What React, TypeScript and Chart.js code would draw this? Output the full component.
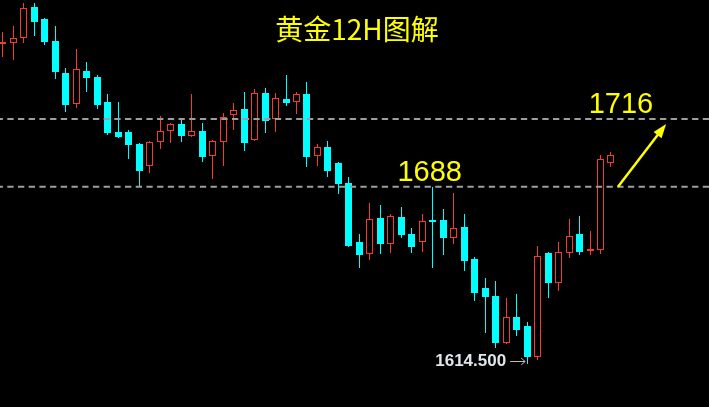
import React, { useEffect, useRef } from 'react';
import { Chart, registerables } from 'chart.js';
Chart.register(...registerables);

const opens = [1747.0, 1747.4, 1749.5, 1762.3, 1757.4, 1748.3, 1735.0, 1722.2, 1735.9, 1733.4, 1723.0, 1710.6, 1710.6, 1705.7, 1696.6, 1706.5, 1711.0, 1713.9, 1709.0, 1711.0, 1700.7, 1706.5, 1717.7, 1720.1, 1707.3, 1726.8, 1716.0, 1724.3, 1723.0, 1726.3, 1700.7, 1704.4, 1697.8, 1689.5, 1665.1, 1660.2, 1675.1, 1664.3, 1675.5, 1668.4, 1665.1, 1674.2, 1674.2, 1666.8, 1671.3, 1658.1, 1646.1, 1642.8, 1623.4, 1634.1, 1630.4, 1617.6, 1660.6, 1648.2, 1660.6, 1668.4, 1661.4, 1661.8, 1697.8];
const highs = [1752.0, 1754.5, 1764.0, 1764.0, 1757.8, 1754.5, 1737.1, 1744.9, 1739.6, 1734.2, 1726.3, 1723.0, 1711.5, 1706.0, 1706.8, 1717.2, 1714.3, 1715.6, 1726.3, 1714.3, 1707.2, 1718.5, 1722.6, 1727.2, 1728.4, 1728.8, 1726.8, 1734.2, 1727.2, 1731.3, 1705.7, 1706.9, 1698.2, 1692.0, 1668.4, 1681.3, 1680.4, 1676.7, 1679.6, 1670.9, 1676.7, 1687.9, 1678.8, 1685.4, 1676.7, 1658.9, 1650.2, 1649.0, 1642.0, 1643.6, 1632.0, 1663.5, 1661.0, 1665.1, 1674.6, 1675.9, 1669.7, 1701.1, 1702.4];
const lows = [1741.6, 1740.4, 1747.4, 1750.3, 1746.6, 1732.5, 1718.9, 1720.5, 1727.2, 1720.1, 1709.4, 1708.1, 1699.5, 1687.9, 1693.7, 1703.6, 1706.1, 1706.5, 1708.6, 1698.2, 1691.2, 1696.6, 1711.5, 1702.8, 1706.9, 1710.2, 1710.6, 1721.4, 1718.1, 1696.1, 1696.6, 1692.0, 1685.0, 1663.1, 1654.4, 1657.7, 1660.2, 1660.6, 1666.8, 1660.6, 1661.0, 1654.4, 1659.8, 1664.3, 1653.1, 1640.7, 1627.5, 1621.3, 1623.0, 1626.3, 1614.5, 1616.3, 1642.0, 1644.9, 1658.5, 1659.8, 1659.8, 1660.2, 1696.1];
const closes = [1747.8, 1749.5, 1761.9, 1756.1, 1747.8, 1735.4, 1721.8, 1736.7, 1733.0, 1721.8, 1710.2, 1708.6, 1705.2, 1694.5, 1706.5, 1711.0, 1713.9, 1709.0, 1711.0, 1700.3, 1706.9, 1716.8, 1719.7, 1706.1, 1726.8, 1715.2, 1724.7, 1722.6, 1726.3, 1700.3, 1704.4, 1694.5, 1689.1, 1663.5, 1659.8, 1674.6, 1664.3, 1675.9, 1668.0, 1663.1, 1673.8, 1673.4, 1666.8, 1670.9, 1657.3, 1644.0, 1642.4, 1623.4, 1634.1, 1628.7, 1617.6, 1659.3, 1648.2, 1661.0, 1667.6, 1661.0, 1662.2, 1699.5, 1701.1];

const levels = [1716, 1688];
const levelLabels = ['1716', '1688'];
const levelLabelX = [58.95, 40.7];
const titleText = '黄金12H图解';
const lowLabel = '1614.500';
const lowIndex = 50;
const arrowFrom = { x: 58.67, y: 1688 };
const arrowTo = { x: 63.26, y: 1713.9 };

const X_MIN = -0.286;
const X_MAX = 67.35;
const Y_MIN = 1596.89;
const Y_MAX = 1765.21;

const UP = '#f23c30';
const DOWN = '#00ffff';
const YELLOW = '#ffff00';

export default function App() {
  const ref = useRef<HTMLCanvasElement>(null);
  useEffect(() => {
    document.body.style.margin = '0';
    document.body.style.background = '#000';
    const idx = opens.map((_, i) => i);
    const isUp = opens.map((o, i) => closes[i] >= o);
    const colors = isUp.map((u) => (u ? UP : DOWN));
    const wickData = idx.map((i) => ({ x: i, y: [lows[i], highs[i]] }));
    const bodyData = idx.map((i) => ({ x: i, y: [opens[i], closes[i]] }));

    const bg = {
      id: 'bg',
      beforeDraw(chart: any) {
        const c = chart.ctx;
        c.save();
        c.fillStyle = '#000';
        c.fillRect(0, 0, chart.width, chart.height);
        c.restore();
      },
    };

    // snap bar elements to the pixel grid for crisp candles
    const snap = {
      id: 'snap',
      beforeDatasetsDraw(chart: any) {
        chart.data.datasets.forEach((_: any, di: number) => {
          const meta = chart.getDatasetMeta(di);
          meta.data.forEach((el: any) => {
            el.x = Math.floor(el.x) + 0.5;
            el.y = Math.round(el.y);
            el.base = Math.round(el.base);
          });
        });
      },
    };

    const annot = {
      id: 'annot',
      afterDatasetsDraw(chart: any) {
        const c = chart.ctx as CanvasRenderingContext2D;
        const xs = chart.scales.x;
        const ys = chart.scales.y;
        c.save();
        c.strokeStyle = '#9e9e9e';
        c.lineWidth = 2;
        c.setLineDash([6.3, 4.4]);
        c.lineDashOffset = 3.4;
        levels.forEach((lv) => {
          const y = ys.getPixelForValue(lv);
          c.beginPath();
          c.moveTo(0, y);
          c.lineTo(chart.width, y);
          c.stroke();
        });
        c.setLineDash([]);
        c.fillStyle = YELLOW;
        c.font = '29px "Liberation Sans", Arial, sans-serif';
        c.textAlign = 'center';
        c.textBaseline = 'alphabetic';
        levels.forEach((lv, k) => {
          const y = ys.getPixelForValue(lv);
          c.fillText(levelLabels[k], xs.getPixelForValue(levelLabelX[k]), y - 6);
        });
        c.font = '28px "Noto Sans CJK SC", sans-serif';
        c.textBaseline = 'middle';
        c.fillText(titleText, 357, 29.5);
        const x1 = xs.getPixelForValue(arrowFrom.x);
        const y1 = ys.getPixelForValue(arrowFrom.y);
        const x2 = xs.getPixelForValue(arrowTo.x);
        const y2 = ys.getPixelForValue(arrowTo.y);
        const ang = Math.atan2(y2 - y1, x2 - x1);
        const headLen = 14;
        const headW = 5;
        c.strokeStyle = YELLOW;
        c.lineWidth = 2.5;
        c.beginPath();
        c.moveTo(x1, y1);
        c.lineTo(x2 - Math.cos(ang) * (headLen - 2), y2 - Math.sin(ang) * (headLen - 2));
        c.stroke();
        c.beginPath();
        c.moveTo(x2, y2);
        const bx = x2 - Math.cos(ang) * headLen;
        const by = y2 - Math.sin(ang) * headLen;
        c.lineTo(bx + Math.sin(ang) * headW, by - Math.cos(ang) * headW);
        c.lineTo(bx - Math.sin(ang) * headW, by + Math.cos(ang) * headW);
        c.closePath();
        c.fill();
        const lx = xs.getPixelForValue(lowIndex);
        const ly = Math.round(ys.getPixelForValue(lows[lowIndex]) - 3);
        c.fillStyle = '#dfe6ec';
        c.font = 'bold 17px "Liberation Sans", Arial, sans-serif';
        c.textAlign = 'right';
        c.textBaseline = 'middle';
        c.fillText(lowLabel, lx - 21, ly);
        c.strokeStyle = '#bdbdbd';
        c.lineWidth = 1;
        c.beginPath();
        c.moveTo(lx - 17, ly + 0.5);
        c.lineTo(lx - 2, ly + 0.5);
        c.moveTo(lx - 6, ly - 3);
        c.lineTo(lx - 2, ly + 0.5);
        c.lineTo(lx - 6, ly + 4);
        c.stroke();
        c.restore();
      },
    };

    const chart = new Chart(ref.current as HTMLCanvasElement, {
      type: 'bar',
      data: {
        datasets: [
          {
            data: bodyData as any,
            backgroundColor: isUp.map((u) => (u ? '#000' : DOWN)),
            borderColor: colors,
            borderWidth: 1,
            borderSkipped: false,
            maxBarThickness: 7,
            grouped: false,
            minBarLength: 2,
            order: 1,
          } as any,
          {
            data: wickData as any,
            backgroundColor: colors,
            borderWidth: 0,
            maxBarThickness: 1,
            grouped: false,
            order: 2,
          } as any,
        ],
      },
      options: {
        responsive: false,
        animation: false,
        layout: { padding: 0 },
        plugins: {
          legend: { display: false },
          tooltip: { enabled: false },
          title: { display: false },
        },
        scales: {
          x: { type: 'linear', min: X_MIN, max: X_MAX, display: false, offset: false },
          y: { type: 'linear', min: Y_MIN, max: Y_MAX, display: false },
        },
      },
      plugins: [bg, snap, annot],
    });
    return () => chart.destroy();
  }, []);
  return <canvas ref={ref} width={709} height={407} style={{ display: 'block' }} />;
}
